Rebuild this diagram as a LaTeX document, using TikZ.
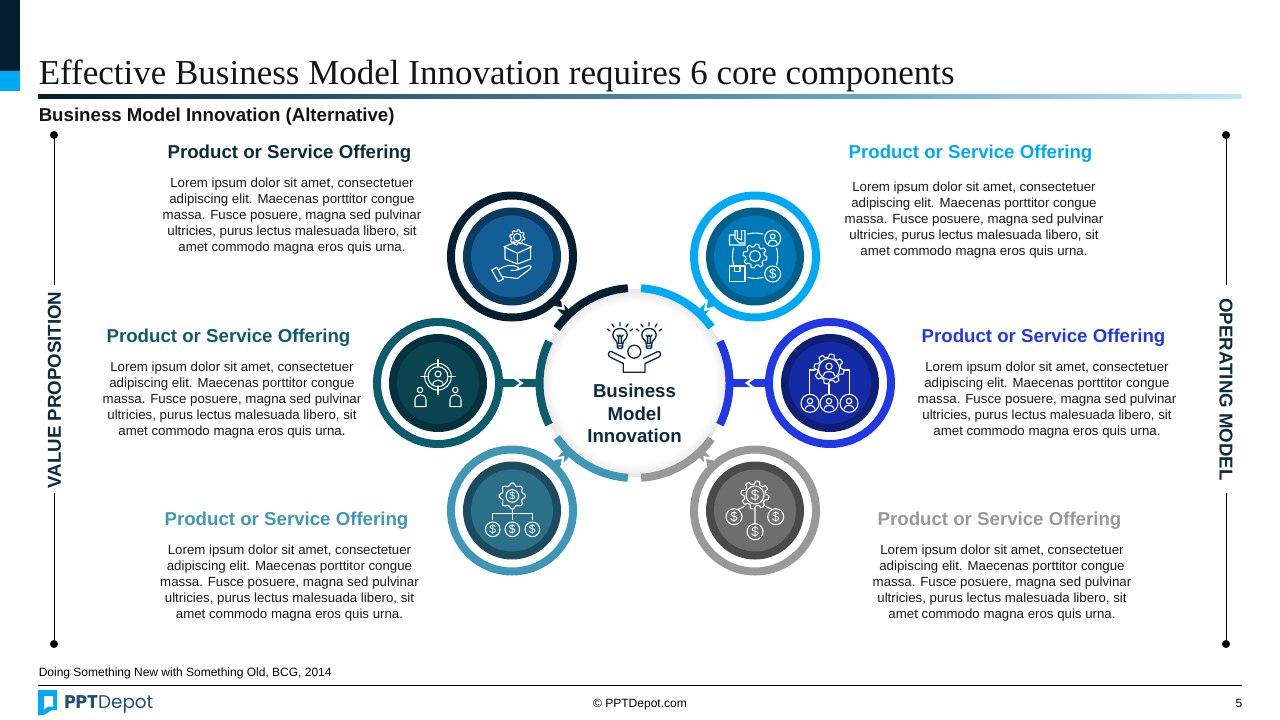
\documentclass[tikz,border=0pt]{standalone}
\usepackage{fontspec}
\setmainfont{Liberation Sans}
\newfontfamily\titlefont{Liberation Serif}
\newfontfamily\logofont{Poppins}
\usetikzlibrary{calc}
\definecolor{cDark}{HTML}{031F30}\definecolor{cDarkA}{HTML}{0A3A5E}\definecolor{cDarkB}{HTML}{135E96}
\definecolor{cCyan}{HTML}{00A9F4}\definecolor{cCyanA}{HTML}{035E8A}\definecolor{cCyanB}{HTML}{0079B8}
\definecolor{cTeal}{HTML}{0C5C6E}\definecolor{cTealA}{HTML}{05303D}\definecolor{cTealB}{HTML}{0A4450}
\definecolor{cBlue}{HTML}{2039E5}\definecolor{cBlueA}{HTML}{0F1F74}\definecolor{cBlueB}{HTML}{152AA6}
\definecolor{cSky}{HTML}{3E97B6}\definecolor{cSkyA}{HTML}{1C4B5D}\definecolor{cSkyB}{HTML}{2B7089}
\definecolor{cGrey}{HTML}{999999}\definecolor{cGreyA}{HTML}{4A4A4A}\definecolor{cGreyB}{HTML}{6E6E6E}
\definecolor{cInk}{HTML}{0D2B3E}\definecolor{cLogo}{HTML}{1F4E79}
\definecolor{cRuleA}{HTML}{2D5F7F}\definecolor{cRuleB}{HTML}{6AA9CC}\definecolor{cRuleC}{HTML}{BEE8FB}
\pgfdeclarehorizontalshading{ruleshade}{100bp}{color(0bp)=(cDark);color(25bp)=(cDark);color(40bp)=(cRuleA);color(60bp)=(cRuleB);color(75bp)=(cRuleC);color(100bp)=(cRuleC)}
\pgfdeclareradialshading{hubshade}{\pgfpoint{0bp}{0bp}}{color(0bp)=(white);color(21.5bp)=(white);color(25bp)=(black!10);color(50bp)=(black!10)}
\tikzset{
  satnode/.style={circle,inner sep=0pt,minimum size=97.5pt},
  hubnode/.style={circle,inner sep=0pt,minimum size=148.5pt},
  headtxt/.style={font=\fontsize{14}{16}\selectfont\bfseries,inner sep=0pt},
  bodytxt/.style={font=\fontsize{9.95}{12}\selectfont,align=center,inner sep=0pt,text=black!90},
  sidetxt/.style={font=\fontsize{14}{16}\selectfont\bfseries,inner sep=0pt,text=cInk},
  iconline/.style={draw=white,line width=.8pt,line cap=round,line join=round},
  hubline/.style={draw=cInk,line width=1pt,line cap=round,line join=round},
  dollarmark/.style={text=white,inner sep=0pt},
  enddot/.style={circle,fill=black,inner sep=0pt,minimum size=6pt},
  sideline/.style={draw=black,line width=.7pt},
  smalltxt/.style={font=\fontsize{9}{11}\selectfont,inner sep=0pt,text=black}
}
\newcommand\lorem{Lorem ipsum dolor sit amet, consectetuer\\adipiscing elit. Maecenas porttitor congue\\massa. Fusce posuere, magna sed pulvinar\\ultricies, purus lectus malesuada libero, sit\\amet commodo magna eros quis urna.}
\newcommand\satellite[6]{%
  \node[satnode] (#1) at (#2,#3) {};
  \draw[#4,line width=6pt] (#1.center) circle (61);
  \fill[#5] (#1.center) circle (49);
  \fill[#6] (#1.center) circle (41);
}
\newcommand\ringarc[3]{\draw[#1,line width=6pt] plot[domain=#2:#3,samples=40] ({634.5+95*cos(\x)},{383-95*sin(\x)});}
\newcommand\linkup[2]{%
  \draw[#2,line width=6pt,shorten >=-1.5pt,shorten <=-1.5pt] (#1) -- (hub);
  \path let \p1=($(hub)-(#1)$),\n1={atan2(\y1,\x1)} in
    coordinate (n#1) at ($(#1.\n1)!0.5!(hub.\n1+180)$);
  \draw[white,line width=1.7pt] let \p1=($(hub)-(#1)$),\n1={atan2(\y1,\x1)} in
    ($(n#1)+(\n1+135:6.2pt)$) -- ($(n#1)+(\n1:1.8pt)$) -- ($(n#1)+(\n1-135:6.2pt)$);
}
\newcommand\gearshape[3]{\begin{scope}[shift={(#1,#2)},scale=#3]
  \draw[iconline] plot[domain=0:360,samples=145] ({(.89+.11*max(-1,min(1,2.4*sin(8*\x))))*cos(\x)},{(.89+.11*max(-1,min(1,2.4*sin(8*\x))))*sin(\x)});
\end{scope}}
\newcommand\personin[3]{\begin{scope}[shift={(#1,#2)},scale=#3]
  \draw[iconline] (0,-.28) circle (.34);
  \draw[iconline] (-.62,.72) .. controls (-.62,.1) and (.62,.1) .. (.62,.72);
\end{scope}}
\newcommand\coin[4]{%
  \draw[iconline] (#2,#3) circle (#4);
  \pgfmathsetmacro\coinsize{#4*1.25}%
  \node[dollarmark] (#1) at (#2,#3) {\fontsize{\coinsize}{\coinsize}\selectfont\$};
}
\newcommand\bulb[2]{\begin{scope}[shift={(#1,#2)}]
  \draw[hubline] (-2.8,7.5) .. controls (-2.8,4.5) and (-7.2,3) .. (-7.2,-1) .. controls (-7.2,-5.5) and (-3.5,-7.5) .. (0,-7.5) .. controls (3.5,-7.5) and (7.2,-5.5) .. (7.2,-1) .. controls (7.2,3) and (2.8,4.5) .. (2.8,7.5) -- cycle;
  \draw[hubline] (-2.8,7.5) -- (-2.8,11) -- (-1.5,12.5) -- (1.5,12.5) -- (2.8,11) -- (2.8,7.5) (-2.8,10) -- (2.8,10);
  \draw[hubline] (-1.4,7.5) -- (-1.4,1) -- (-3,-1) (-1.4,1) -- (.1,-1) (1.4,7.5) -- (1.4,1) -- (3,-1) (1.4,1) -- (-.1,-1);
  \draw[hubline] (0,-10) -- (0,-13.5) (6,-9) -- (8,-12) (-6,-9) -- (-8,-12) (10,-5) -- (12.5,-7) (-10,-5) -- (-12.5,-7);
\end{scope}}
\begin{document}
\begin{tikzpicture}[x=.75pt,y=-.75pt]
\useasboundingbox (0,0) rectangle (1280,720);
% header
\fill[cDark] (0,0) rectangle (20,71);
\fill[cCyan] (0,71) rectangle (20,91);
\node[anchor=base west,inner sep=0pt,font=\fontsize{26.25}{30}\selectfont\titlefont,text=black!92] (title) at (38.5,85) {Effective Business Model Innovation requires 6 core components};
\shade[shading=ruleshade] (38,95) rectangle (1241.5,99);
\node[anchor=base west,inner sep=0pt,font=\fontsize{14}{16}\selectfont\bfseries,text=black!92] (subtitle) at (38.5,122) {Business Model Innovation (Alternative)};
% side rails
\node[sidetxt,rotate=90] (vp) at (54.5,390) {VALUE PROPOSITION};
\node[sidetxt,rotate=-90] (om) at (1226,389.5) {OPERATING MODEL};
\node[enddot] (la) at (54,135) {};
\node[enddot] (lb) at (54,644) {};
\node[enddot] (ra) at (1226,135) {};
\node[enddot] (rb) at (1226,644) {};
\coordinate (lc) at (54,285);\coordinate (ld) at (54,493);
\coordinate (rc) at (1226,285);\coordinate (rd) at (1226,493);
\draw[sideline] (la) -- (lc) (ld) -- (lb) (ra) -- (rc) (rd) -- (rb);
% hub
\node[hubnode] (hub) at (634.5,383) {};
\shade[shading=hubshade] (hub.center) circle (94);
% satellites
\satellite{sa}{512}{256.5}{cDark}{cDarkA}{cDarkB}
\satellite{sb}{755}{256.5}{cCyan}{cCyanA}{cCyanB}
\satellite{sc}{438}{383}{cTeal}{cTealA}{cTealB}
\satellite{sd}{830}{383}{cBlue}{cBlueA}{cBlueB}
\satellite{se}{512}{510.5}{cSky}{cSkyA}{cSkyB}
\satellite{sf}{755}{510.5}{cGrey}{cGreyA}{cGreyB}
% arcs
\ringarc{cDark}{94}{145}
\ringarc{cCyan}{36}{86}
\ringarc{cTeal}{154}{206}
\ringarc{cBlue}{-26}{26}
\ringarc{cSky}{215}{266}
\ringarc{cGrey}{-86}{-36}
% connectors
\linkup{sa}{cDark}
\linkup{sb}{cCyan}
\linkup{sc}{cTeal}
\linkup{sd}{cBlue}
\linkup{se}{cSky}
\linkup{sf}{cGrey}
% hub icon
\bulb{620}{336}
\bulb{649}{336}
\draw[hubline,fill=white] (634.3,351.7) circle (6.5);
\draw[hubline] (625,358.3) -- (611.7,351.7) .. controls (608,350.5) and (607.5,356) .. (610,357) -- (623.3,363.5) -- (623.3,372.3) -- (645,372.3) -- (645,363.5) -- (659,357) .. controls (661.5,356) and (661,350.5) .. (657.5,351.7) -- (643.5,358.3);
\node[font=\fontsize{14}{17}\selectfont\bfseries,align=center,inner sep=0pt,text=cInk] (hubtxt) at (634.5,413.5) {Business\\Model\\Innovation};
% icon a: hand with box
\gearshape{517.3}{237.3}{7.5}
\draw[iconline] (517.3,237.3) circle (3.8);
\draw[iconline] (504,246.7) -- (517.3,241.7) -- (531.7,246.7) -- (517.3,253.3) -- cycle;
\draw[iconline] (505,247) -- (505,259) -- (517.3,264) -- (530.7,259) -- (530.7,247) (517.3,253.3) -- (517.3,264);
\draw[iconline] (491.7,270) -- (496.7,267.3) -- (503.3,279) -- (498.3,281.7) -- cycle;
\draw[iconline] (498.3,270) .. controls (505,265) and (511,264) .. (518.3,267.3) .. controls (519.5,269) and (518.5,270.5) .. (511,270.5);
\draw[iconline] (517,270) -- (529,265.5) .. controls (531.5,265) and (532,267.5) .. (530,269) -- (517.3,278.5) -- (502.7,276.7);
% icon b: operations
\gearshape{755}{256}{12}
\draw[iconline] (755,256) circle (5.5);
\draw[iconline] (772.7,238.3) circle (8);
\personin{772.7}{238.3}{7}
\coin{cb}{772.7}{274}{8}
\draw[iconline] (729.5,245) -- (729.5,235) -- (735,235) -- (735,230.7) -- (737.3,230.7) -- (737.3,238) -- (741.7,240) -- (741.7,230.7) -- (745,230.7) -- (745,245) -- cycle (735,235) -- (735,238) -- (739,243) -- (745,243);
\draw[iconline] (729.5,266) rectangle (745,281.7);
\draw[iconline] (734.3,266) -- (734.3,271.7) -- (740,271.7) -- (740,266);
\draw[iconline] (747.5,234) to[bend left=12] (763,234);
\draw[iconline] (776.7,248) to[bend left=12] (776.7,265);
\draw[iconline] (763,277.5) to[bend left=12] (748,277.5);
\draw[iconline] (733.5,265) to[bend left=12] (733.5,248);
% icon c: target
\draw[iconline] (438,376.7) circle (13.3);
\draw[iconline] (438,376.7) circle (10);
\draw[iconline] (438,359.5) -- (438,367) (438,386) -- (438,394.5) (421,376.7) -- (428,376.7) (448,376.7) -- (455,376.7);
\draw[iconline] (438,374) circle (3);
\draw[iconline] (432.7,385) .. controls (433,378.5) and (443,378.5) .. (443.3,385);
\draw[iconline] (420,390) circle (2.7);
\draw[iconline] (415,406.7) -- (415,400) .. controls (415,393) and (426,393) .. (426,400) -- (426,406.7) -- cycle;
\draw[iconline] (455.3,390) circle (2.7);
\draw[iconline] (450,406.7) -- (450,400) .. controls (450,393) and (461,393) .. (461,400) -- (461,406.7) -- cycle;
% icon d: people
\gearshape{829}{369}{15}
\draw[iconline] (829,369) circle (10.5);
\personin{829}{369}{9.5}
\draw[iconline] (815,370) -- (809.3,370) -- (809.3,394);
\draw[iconline] (843.3,370) -- (849.3,370) -- (849.3,394);
\draw[iconline] (829,384) -- (829,394);
\draw[iconline] (810,403.3) circle (9);
\draw[iconline] (829,403.3) circle (9);
\draw[iconline] (849,403.3) circle (9);
\personin{810}{403.3}{8}
\personin{829}{403.3}{8}
\personin{849}{403.3}{8}
% icon e: dollar tree
\draw[iconline,smooth] plot[domain=0:360,samples=73] ({512.3+(11.7+1.4*cos(8*\x))*cos(\x)},{496+(11.7+1.4*cos(8*\x))*sin(\x)});
\coin{ce}{512.3}{496}{6.3}
\draw[iconline] (512.3,510) -- (512.3,519.3) (492.7,519.3) -- (492.7,513.3) -- (532.3,513.3) -- (532.3,519.3);
\coin{cea}{492.7}{529.3}{7.3}
\coin{ceb}{512.3}{529.3}{7.3}
\coin{cec}{532.3}{529.3}{7.3}
% icon f: gear with coins
\gearshape{755}{495}{14}
\coin{cf}{755}{495}{9}
\draw[iconline] (755,508.3) -- (755,524) (745,506) -- (738.3,509.3) (765,506) -- (771.7,509.3);
\coin{cfa}{734}{516.7}{8}
\coin{cfb}{775.7}{516.7}{8}
\coin{cfc}{755}{531.7}{8}
% text blocks
\node[headtxt,text=cInk] (ha) at (289.5,153.8) {Product or Service Offering};
\node[bodytxt] (ta) at (292,216) {\lorem};
\node[headtxt,text=cCyan] (hb) at (970.5,153.8) {Product or Service Offering};
\node[bodytxt] (tb) at (974,220) {\lorem};
\node[headtxt,text=cTeal] (hc) at (228.5,337.8) {Product or Service Offering};
\node[bodytxt] (tc) at (232,400) {\lorem};
\node[headtxt,text=cBlue] (hd) at (1043.5,337.8) {Product or Service Offering};
\node[bodytxt] (td) at (1047,400) {\lorem};
\node[headtxt,text=cSky] (he) at (286.5,520.8) {Product or Service Offering};
\node[bodytxt] (te) at (289.5,583) {\lorem};
\node[headtxt,text=cGrey] (hf) at (999.5,520.8) {Product or Service Offering};
\node[bodytxt] (tf) at (1002,583) {\lorem};
% footer
\node[smalltxt,anchor=base west] (src) at (38.5,676) {Doing Something New with Something Old, BCG, 2014};
\coordinate (fa) at (38,685);\coordinate (fb) at (1241.5,685);
\draw[black,line width=.75pt] (fa) -- (fb);
\fill[cCyan] (38,690) -- (57,690) -- (57,710) -- (52,710) -- (44,715) -- (38,715) -- cycle;
\fill[white] (44,696) -- (53,696) -- (53,706.5) -- (48,706.5) -- (44,709.5) -- cycle;
\node[anchor=base west,inner sep=0pt,font=\fontsize{13.8}{16}\selectfont\logofont,text=cLogo] (logo) at (64,708) {\textbf{PPT}Depot};
\node[smalltxt,anchor=base] (copy) at (640,707) {© PPTDepot.com};
\node[smalltxt,anchor=base] (page) at (1239,707) {5};
\end{tikzpicture}
\end{document}
